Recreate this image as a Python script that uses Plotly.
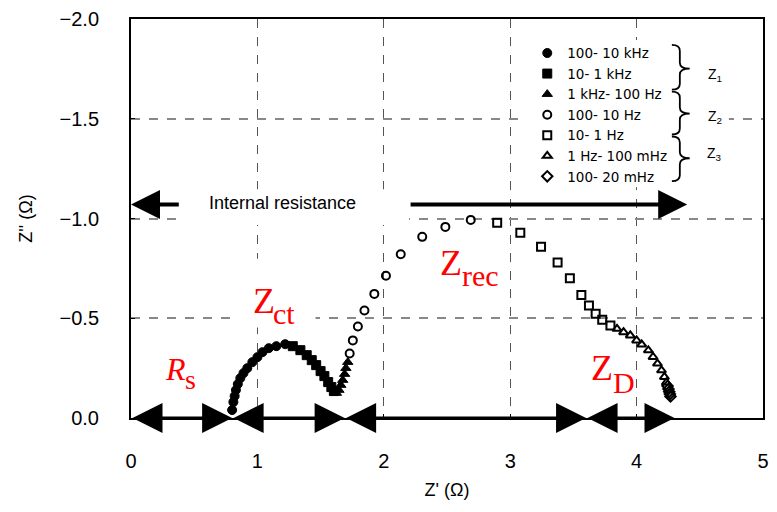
import plotly.graph_objects as go

# ---------------- data (Z' , Z'' in ohm) ----------------
fc_x = [0.80, 0.81, 0.82, 0.83, 0.845, 0.865, 0.89, 0.92, 0.96, 1.00, 1.04, 1.09, 1.15, 1.22]
fc_y = [-0.04, -0.08, -0.11, -0.14, -0.17, -0.20, -0.225, -0.25, -0.28, -0.305, -0.33, -0.35, -0.36, -0.37]
fs_x = [1.28, 1.34, 1.39, 1.43, 1.465, 1.50, 1.53, 1.56, 1.585, 1.605]
fs_y = [-0.36, -0.34, -0.315, -0.29, -0.265, -0.235, -0.21, -0.18, -0.155, -0.135]
ft_x = [1.625, 1.645, 1.66, 1.675, 1.69, 1.70, 1.715]
ft_y = [-0.125, -0.14, -0.165, -0.19, -0.22, -0.25, -0.28]
oc_x = [1.73, 1.755, 1.795, 1.847, 1.925, 2.017, 2.134, 2.304, 2.487, 2.688]
oc_y = [-0.323, -0.389, -0.459, -0.539, -0.622, -0.713, -0.821, -0.908, -0.958, -0.993]
os_x = [2.897, 3.08, 3.244, 3.375, 3.472, 3.563, 3.623, 3.676, 3.728, 3.793]
os_y = [-0.979, -0.929, -0.859, -0.78, -0.70, -0.617, -0.564, -0.522, -0.492, -0.464]
ot_x = [3.845, 3.897, 3.95, 4.0, 4.04, 4.093, 4.13, 4.165, 4.197, 4.22, 4.235]
ot_y = [-0.447, -0.43, -0.414, -0.389, -0.369, -0.339, -0.306, -0.273, -0.239, -0.206, -0.178]
od_x = [4.245, 4.252, 4.258, 4.263, 4.268]
od_y = [-0.16, -0.145, -0.132, -0.12, -0.108]

series_names = ["100- 10 kHz", "10- 1 kHz", "1 kHz- 100 Hz", "100- 10 Hz",
                "10- 1 Hz", "1 Hz- 100 mHz", "100- 20 mHz"]
series_symbols = ["circle", "square", "triangle-up", "circle-open",
                  "square-open", "triangle-up-open", "diamond-open"]
series_x = [fc_x, fs_x, ft_x, oc_x, os_x, ot_x, od_x]
series_y = [fc_y, fs_y, ft_y, oc_y, os_y, ot_y, od_y]

x_ticks = [0, 1, 2, 3, 4, 5]
y_ticks = [0.0, -0.5, -1.0, -1.5, -2.0]

# resistance segments along the real axis (start, end) and their height
segments = [(0.0, 0.8), (0.8, 1.69), (1.69, 3.6), (3.6, 4.3)]
segment_y = 0.0
# internal resistance arrows: (tail, head)
ir_arrows = [(0.39, 0.0), (2.2, 4.4)]
ir_y = -1.07
ir_text_x = 1.2

# frequency-group braces: (top, middle, bottom) in Z''
braces = [(-1.870, -1.751, -1.646), (-1.636, -1.526, -1.421), (-1.411, -1.302, -1.187)]
brace_x = (4.279, 4.342, 4.42)
group_labels = ["Z<sub>1</sub>", "Z<sub>2</sub>", "Z<sub>3</sub>"]
group_label_y = [-1.721, -1.511, -1.322]
group_label_x = 4.62

# red labels: (text, x_left, y_center, size, italic)
red_labels = [
    ("R", 0.25, -0.248, 32, True), ("s", 0.415, -0.192, 28, False),
    ("Z", 0.95, -0.585, 36, False), ("ct", 1.11, -0.524, 30, False),
    ("Z", 2.43, -0.779, 36, False), ("rec", 2.60, -0.714, 30, False),
    ("Z", 3.62, -0.250, 36, False), ("D", 3.80, -0.180, 30, False),
]

# white masks behind labels (x0, x1, y0, y1)
masks = [(0.83, 1.46, -0.798, -0.454), (0.38, 2.2, -1.147, -0.968), (3.11, 4.73, -1.895, -1.157)]

fig = go.Figure()
for name, sym, xs, ys in zip(series_names, series_symbols, series_x, series_y):
    is_open = "open" in sym
    fig.add_trace(go.Scatter(
        x=xs, y=ys, mode="markers", name=name,
        marker=dict(symbol=sym, size=8 if is_open else 9, color="black",
                    line=dict(width=2 if is_open else 1, color="black")),
    ))

shapes = []
for (x0, x1, y0, y1) in masks:
    shapes.append(dict(type="rect", xref="x", yref="y", x0=x0, x1=x1, y0=y0, y1=y1,
                       fillcolor="white", line=dict(width=0), layer="between"))
bx0, bx1, bx2 = brace_x
for (yt, ym, yb) in braces:
    r = 0.03
    path = (f"M{bx0},{yt} Q{bx1},{yt} {bx1},{yt + r} L{bx1},{ym - r} "
            f"Q{bx1},{ym} {bx2},{ym} Q{bx1},{ym} {bx1},{ym + r} "
            f"L{bx1},{yb - r} Q{bx1},{yb} {bx0},{yb}")
    shapes.append(dict(type="path", xref="x", yref="y", path=path,
                       line=dict(color="black", width=1.8)))

annotations = []
for (s, e) in segments:
    annotations.append(dict(x=e, y=segment_y, ax=s, ay=segment_y, xref="x", yref="y",
                            axref="x", ayref="y", text="", showarrow=True,
                            arrowside="end+start", arrowhead=2, arrowsize=2.0,
                            arrowwidth=3, arrowcolor="black", standoff=0, startstandoff=0))
for (t, h) in ir_arrows:
    annotations.append(dict(x=h, y=ir_y, ax=t, ay=ir_y, xref="x", yref="y",
                            axref="x", ayref="y", text="", showarrow=True,
                            arrowhead=2, arrowsize=1.45, arrowwidth=4,
                            arrowcolor="black", standoff=0))
annotations.append(dict(x=ir_text_x, y=ir_y - 0.01, xref="x", yref="y",
                        text="Internal resistance", showarrow=False,
                        font=dict(family="Liberation Sans", size=18, color="black")))
for lab, ly in zip(group_labels, group_label_y):
    annotations.append(dict(x=group_label_x, y=ly, xref="x", yref="y", text=lab,
                            showarrow=False,
                            font=dict(family="Liberation Sans", size=14, color="black")))
for (txt, lx, ly, sz, it) in red_labels:
    annotations.append(dict(x=lx, y=ly, xref="x", yref="y",
                            text=f"<i>{txt}</i>" if it else txt,
                            xanchor="left", yanchor="middle", showarrow=False,
                            font=dict(family="Liberation Serif", size=sz, color="red")))

axis_font = dict(family="Liberation Sans", size=20, color="black")
title_font = dict(family="Liberation Sans", size=18, color="black")
fig.update_layout(
    width=777, height=512,
    margin=dict(l=131, r=8, t=17, b=94),
    paper_bgcolor="white", plot_bgcolor="white",
    showlegend=True,
    legend=dict(x=0.627, y=0.953, xanchor="left", yanchor="top",
                bgcolor="rgba(255,255,255,0)", borderwidth=0,
                font=dict(family="DejaVu Sans", size=13.5, color="black")),
    shapes=shapes, annotations=annotations,
    xaxis=dict(range=[0, 5], tickvals=x_ticks, ticktext=[str(v) for v in x_ticks],
               showline=True, linecolor="black", linewidth=2, mirror=True,
               ticks="inside", ticklen=4, tickcolor="black",
               showgrid=True, gridcolor="#555", griddash="dash", gridwidth=1,
               zeroline=False, tickfont=axis_font, ticklabelstandoff=24,
               title=dict(text="Z' (Ω)", font=title_font, standoff=12)),
    yaxis=dict(range=[0, -2], tickvals=y_ticks, tickformat=".1f",
               showline=True, linecolor="black", linewidth=2, mirror=True,
               ticks="inside", ticklen=4, tickcolor="black",
               showgrid=True, gridcolor="#888", griddash="dash", gridwidth=1.5,
               zeroline=False, tickfont=axis_font, ticklabelstandoff=26,
               title=dict(text="Z'' (Ω)", font=title_font, standoff=22)),
)

fig.write_html("out.html")
